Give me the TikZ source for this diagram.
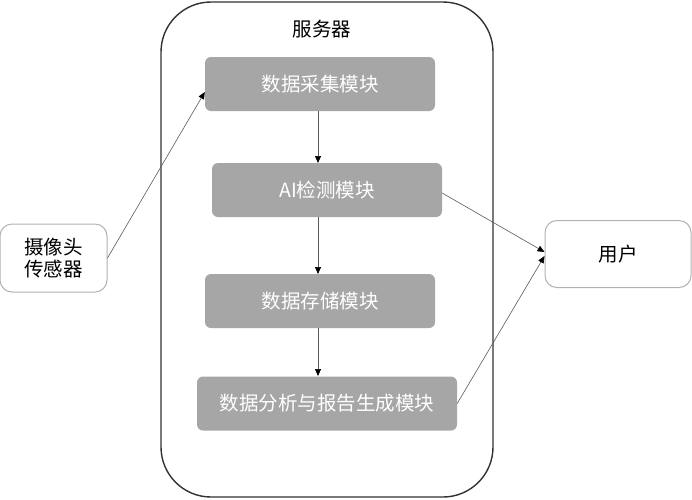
\documentclass[tikz,border=0pt]{standalone}
\usepackage{fontspec}
\setmainfont{Noto Sans CJK SC}
\usetikzlibrary{arrows.meta}
\begin{document}
\begin{tikzpicture}[x=1pt,y=-1pt,
  modbox/.style={draw=none,fill=black!35,rounded corners=6pt,text=white,minimum height=54pt,inner sep=0pt,font=\fontsize{19.5}{23}\selectfont},
  endbox/.style={draw=black!30,line width=1pt,fill=white,rounded corners=12pt,inner sep=0pt,font=\fontsize{19.5}{23}\selectfont,align=center},
  conn/.style={draw=black!65,line width=0.6pt,-{Triangle[length=7pt,width=6pt,color=black,fill=black]}}]
\useasboundingbox (0,0) rectangle (692,499);
\draw[draw=black!80,line width=1.4pt,rounded corners=50pt] (161,2) rectangle (493,497);
\node[font=\fontsize{19.5}{23}\selectfont] (srv) at (322,29) {服务器};
\node[modbox,minimum width=230pt] (m1) at (320,84) {数据采集模块};
\node[modbox,minimum width=230pt] (m2) at (327,190) {AI检测模块};
\node[modbox,minimum width=230pt] (m3) at (320,301) {数据存储模块};
\node[modbox,minimum width=260pt] (m4) at (327,403.5) {数据分析与报告生成模块};
\node[endbox,minimum width=107pt,minimum height=68pt] (cam) at (53.5,258) {摄像头\\[-1pt]传感器};
\node[endbox,minimum width=146pt,minimum height=67pt] (usr) at (618,254) {用户};
\coordinate (a1) at (318,111);
\coordinate (b1) at (318,163);
\coordinate (a2) at (318,217);
\coordinate (b2) at (318,274);
\coordinate (a3) at (318,328);
\coordinate (b3) at (318,376);
\draw[conn] (a1) -- (b1);
\draw[conn] (a2) -- (b2);
\draw[conn] (a3) -- (b3);
\draw[conn] (cam.east) -- (m1.west |- 0,92);
\draw[conn] (m2.east |- 0,193) -- (usr.west |- 0,252);
\draw[conn] (m4.east) -- (usr.west |- 0,256);
\end{tikzpicture}
\end{document}
